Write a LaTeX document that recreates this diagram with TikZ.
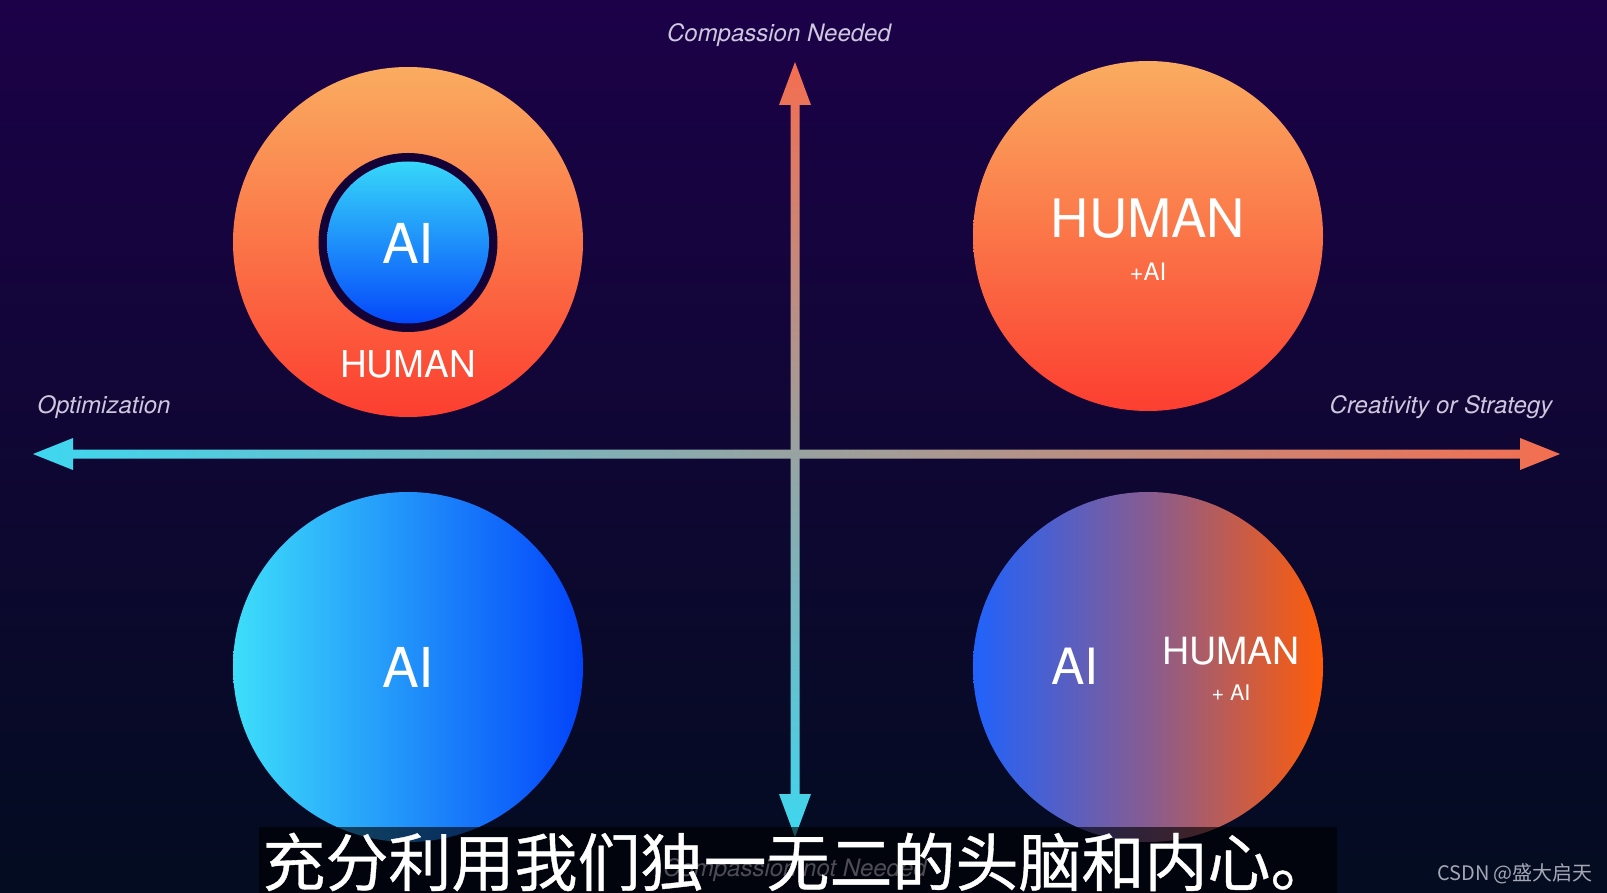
\documentclass[tikz,border=0pt]{standalone}
\usepackage{fontspec}
\setmainfont{TeX Gyre Heros}
\newfontfamily\cjk[FakeBold=0.6]{Noto Sans CJK SC}
\newfontfamily\cjkw{Noto Sans CJK SC}
\definecolor{bgTop}{RGB}{28,1,72}
\definecolor{bgBot}{RGB}{3,12,32}
\definecolor{orTop}{RGB}{250,172,96}
\definecolor{orBot}{RGB}{252,62,48}
\definecolor{blTop}{RGB}{55,215,250}
\definecolor{blBot}{RGB}{5,72,250}
\definecolor{cyL}{RGB}{62,222,250}
\definecolor{cyR}{RGB}{3,68,250}
\definecolor{mxL}{RGB}{32,98,252}
\definecolor{mxM}{RGB}{135,92,145}
\definecolor{mxR}{RGB}{255,92,8}
\definecolor{ring}{RGB}{20,2,55}
\definecolor{axCyan}{RGB}{62,215,240}
\definecolor{axOrange}{RGB}{244,110,80}
\definecolor{axlab}{RGB}{205,200,222}
\definecolor{wm}{RGB}{165,168,180}
\begin{document}
\begin{tikzpicture}[x=1pt,y=-1pt,
  lbl/.style={text=axlab, font=\fontsize{24}{24}\selectfont\itshape, inner sep=0pt, anchor=base},
  ball/.style={circle, minimum size=350pt, inner sep=0pt},
  big/.style={text=white, inner sep=0pt},
]
\useasboundingbox (0,0) rectangle (1607,893);
\shade[top color=bgTop, bottom color=bgBot] (0,0) rectangle (1607,893);

% top-left: AI inside HUMAN
\node[ball, top color=orTop, bottom color=orBot] (tlc) at (408,242) {};
\node[circle, minimum size=179pt, inner sep=0pt, fill=ring] (tlr) at (408,242.5) {};
\node[circle, minimum size=162pt, inner sep=0pt, top color=blTop, bottom color=blBot] (tli) at (tlr) {};
\node[big, font=\fontsize{55}{55}\selectfont] (tlai) at (408,243) {AI};
\node[big, font=\fontsize{37}{37}\selectfont] (tlhu) at (408,364) {HUMAN};

% top-right: HUMAN + AI
\node[ball, top color=orTop, bottom color=orBot] (trc) at (1148,236) {};
\node[big, font=\fontsize{53}{53}\selectfont] (trhu) at (1148,219) {HUMAN};
\node[big, font=\fontsize{24}{24}\selectfont] (trai) at (1148,271.5) {+AI};

% bottom-left: AI
\node[ball, left color=cyL, right color=cyR] (blc) at (408,667) {};
\node[big, font=\fontsize{55}{55}\selectfont] (blai) at (408,667) {AI};

% bottom-right: AI | HUMAN + AI
\node[ball, left color=mxL, right color=mxR, middle color=mxM] (brc) at (1148,667) {};
\node[big, font=\fontsize{50}{50}\selectfont] (brai) at (1075,666) {AI};
\node[big, font=\fontsize{37.5}{37.5}\selectfont] (brhu) at (1231,651.5) {HUMAN};
\node[big, font=\fontsize{21.5}{21.5}\selectfont] (brpl) at (1231,692.5) {+ AI};

% axes
\coordinate (hl) at (33,454);
\coordinate (hr) at (1560,454);
\coordinate (vt) at (795,62);
\coordinate (vb) at (795,837);
\shade[left color=axCyan, right color=axOrange]
  (hl) -- ([shift={(40,-16)}]hl) -- ([shift={(40,-4.5)}]hl) -- ([shift={(-40,-4.5)}]hr)
  -- ([shift={(-40,-16)}]hr) -- (hr) -- ([shift={(-40,16)}]hr) -- ([shift={(-40,4.5)}]hr)
  -- ([shift={(40,4.5)}]hl) -- ([shift={(40,16)}]hl) -- cycle;
\shade[top color=axOrange, bottom color=axCyan]
  (vt) -- ([shift={(16,43)}]vt) -- ([shift={(4.5,43)}]vt) -- ([shift={(4.5,-43)}]vb)
  -- ([shift={(16,-43)}]vb) -- (vb) -- ([shift={(-16,-43)}]vb) -- ([shift={(-4.5,-43)}]vb)
  -- ([shift={(-4.5,43)}]vt) -- ([shift={(-16,43)}]vt) -- cycle;

% axis labels
\node[lbl] (top) at (779,42) {Compassion Needed};
\node[lbl] (opt) at (104,413) {Optimization};
\node[lbl] (cre) at (1441,413) {Creativity or Strategy};
\node[lbl] (bot) at (795,876) {Compassion not Needed};

% subtitle
\fill[black, opacity=0.62] (259,827) rectangle (1337,893);
\node[text=white, inner sep=0pt, font=\fontsize{63}{63}\cjk] (sub) at (798,862) {充分利用我们独一无二的头脑和内心。};
\node[text=wm, inner sep=0pt, font=\fontsize{20}{20}\cjkw] (wmk) at (1515,874) {CSDN @盛大启天};
\end{tikzpicture}
\end{document}
